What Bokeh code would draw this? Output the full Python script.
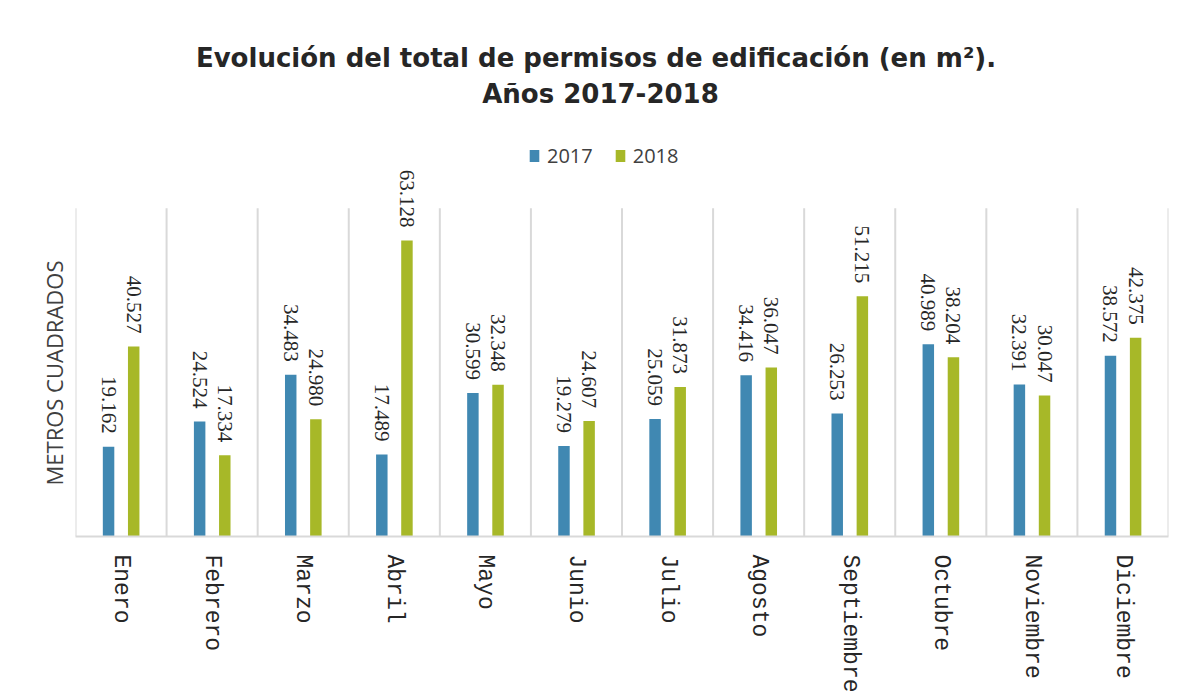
import math
from bokeh.plotting import figure
from bokeh.models import (FactorRange, Range1d, ColumnDataSource, LabelSet, Label, Legend,
                          LegendItem, Title)
from bokeh.transform import dodge
from bokeh.embed import file_html
from bokeh.resources import INLINE

# ---- data ----
months = ["Enero", "Febrero", "Marzo", "Abril", "Mayo", "Junio", "Julio",
          "Agosto", "Septiembre", "Octubre", "Noviembre", "Diciembre"]
years = ["2017", "2018"]
m2_2017 = [19162, 24524, 34483, 17489, 30599, 19279, 25059, 34416, 26253, 40989, 32391, 38572]
m2_2018 = [40527, 17334, 24980, 63128, 32348, 24607, 31873, 36047, 51215, 38204, 30047, 42375]
title_lines = ["Evolución del  total de permisos de edificación (en m²).", "Años 2017-2018"]
y_label = "METROS CUADRADOS"
y_grid_top = 70000      # top of the category separators
y_view_top = 106850     # visible top of the drawing area (room for title, legend, labels)

C2017 = "#4088b2"
C2018 = "#a7b828"
GRID = "#d9d9d9"
TXT = "#262626"


def fmt(v):
    return f"{v:,}".replace(",", ".")


src = ColumnDataSource(dict(
    month=months,
    v2017=m2_2017, v2018=m2_2018,
    l2017=[fmt(v) for v in m2_2017], l2018=[fmt(v) for v in m2_2018],
))

p = figure(x_range=FactorRange(factors=months), y_range=Range1d(0, y_view_top),
           width=1185, height=695, output_backend="svg", toolbar_location=None,
           min_border_left=75, min_border_right=17, min_border_top=35, min_border_bottom=159,
           background_fill_color="white", border_fill_color="white", outline_line_color=None)

p.xgrid.visible = False
p.ygrid.visible = False

# category separators (between months)
bounds = list(range(len(months) + 1))
p.segment(x0=bounds, y0=[0] * len(bounds), x1=bounds, y1=[y_grid_top] * len(bounds),
          line_color=GRID, line_width=2)

r1 = p.vbar(x=dodge("month", -0.137, range=p.x_range), top="v2017", width=0.126,
            source=src, fill_color=C2017, line_color=None)
r2 = p.vbar(x=dodge("month", 0.139, range=p.x_range), top="v2018", width=0.126,
            source=src, fill_color=C2018, line_color=None)

for col, lab, off in (("v2017", "l2017", -0.137), ("v2018", "l2018", 0.139)):
    ls = LabelSet(x=dodge("month", off, range=p.x_range), y=col, text=lab, source=src,
                  angle=-math.pi / 2, text_align="right", text_baseline="middle",
                  y_offset=13, text_font="Open Sans", text_font_size="21px",
                  text_color=TXT)
    p.add_layout(ls)

# x axis
p.xaxis.axis_line_color = GRID
p.xaxis.axis_line_width = 2
p.xaxis.major_tick_line_color = None
p.xaxis.minor_tick_line_color = None
p.xaxis.major_label_orientation = -math.pi / 2
p.xaxis.major_label_standoff = 12
p.xaxis.major_label_text_font = "Liberation Mono"
p.xaxis.major_label_text_font_size = "23px"
p.xaxis.major_label_text_color = TXT

# y axis: no ticks / labels; only its title on the left
p.yaxis.visible = False
p.add_layout(Title(text=y_label, align="left", offset=51, vertical_align="middle",
                   standoff=12, text_font="Open Sans", text_font_size="22px",
                   text_font_style="normal", text_color="#404040"), "left")

legend = Legend(items=[LegendItem(label=years[0], renderers=[r1]),
                       LegendItem(label=years[1], renderers=[r2])],
                orientation="horizontal", location=(453, 367),
                glyph_width=12, glyph_height=15, label_standoff=7, spacing=21,
                padding=2, margin=0, border_line_color=None,
                background_fill_alpha=0,
                label_text_font="Open Sans", label_text_font_size="20px",
                label_text_color="#404040")
p.add_layout(legend)

# two-line chart title, centred on the chart
for txt, ty in ((title_lines[0], 479), (title_lines[1], 443)):
    p.add_layout(Label(x=525, y=ty, x_units="screen", y_units="screen", text=txt,
                       text_align="center", text_baseline="middle",
                       text_font="DejaVu Sans", text_font_size="26px",
                       text_font_style="bold", text_color=TXT))

open("out.html", "w").write(file_html(p, INLINE))
